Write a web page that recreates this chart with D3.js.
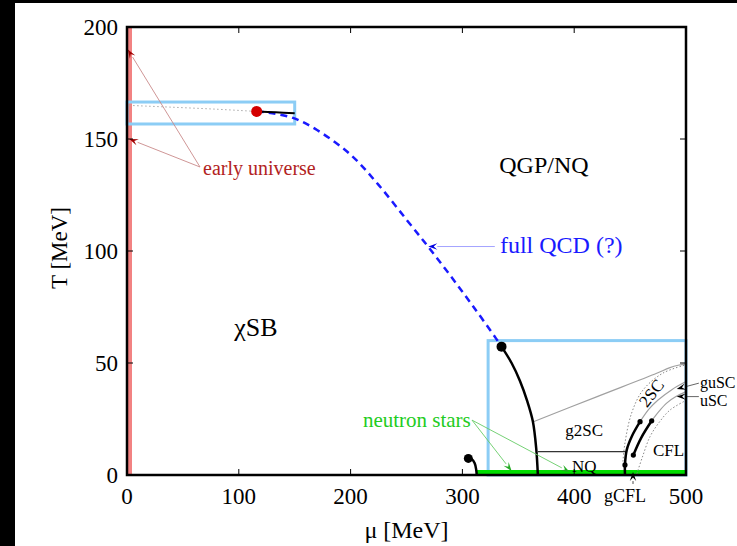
<!DOCTYPE html>
<html>
<head>
<meta charset="utf-8">
<script src="https://cdn.jsdelivr.net/npm/d3@7"></script>
<style>
  body { margin: 0; background: #fff; }
  svg { display: block; font-family: "Liberation Serif", "DejaVu Serif", serif; }
</style>
</head>
<body>
<div id="chart"></div>
<script>
// axis ticks
const muTicks = [0, 100, 200, 300, 400, 500]
const tTicks = [0, 50, 100, 150, 200]

// phase boundaries, [mu, T] in MeV
const crossoverDotted = [[2, 165], [40, 164.2], [80, 163.3], [116, 162.3]]
const crossoverSolid = [[116, 162.3], [133, 161.9], [150, 161.5]]
const fullQcd = [[116, 162.3], [130, 161.5], [148.5, 159.4], [170, 154], [200, 143], [225, 129.5], [250, 114], [270, 101.5], [290, 88.5], [310, 75], [330, 61], [335, 57.3]]
const firstOrder = [[335, 57.3], [344, 50], [351.5, 42], [358, 33], [363, 24], [366, 12], [367.5, 0]]
const nuclearLine = [[305.3, 7.4], [308.5, 7], [311, 5.2], [312.3, 2.5], [312.8, 0]]
const g2scLine = [[363.5, 23.8], [420, 34.9], [473.8, 45.4], [485, 47.8], [493, 49], [500, 49.5]]
const nqLine = [[367.6, 10.4], [446, 10.4]]
const cflSeg1 = [[445.4, 0], [445.4, 4.5], [447, 11.2], [451.7, 17.4], [458.9, 23.8]]
const cflSeg2 = [[452.9, 8.9], [459.8, 16.5], [469.3, 24.2]]
const cflDots = [[445.4, 4.5], [458.9, 23.8], [452.9, 8.9], [469.3, 24.2]]
const outerDotted = [[443.6, 6], [445.4, 14.3], [451.4, 27.7], [461.5, 37.9], [479.4, 45.5], [500, 49.2]]
const guscLine = [[458.9, 23.8], [467, 29.5], [475, 33.5], [487, 38], [500, 41.7]]
const uscLine = [[469.3, 24.2], [476, 28.5], [482.7, 32.1], [491, 35], [500, 37.2]]
const innerDotted = [[456, 0.5], [461, 8], [467.8, 17.1], [476, 23.5], [485.7, 29], [500, 33.3]]
const neutronStars = [312.8, 500]

const criticalPoint = [116, 162.3]
const endPoints = [[335, 57.3], [305.3, 7.4]]

// boxes: [mu0, mu1, T0, T1]
const boxes = [[0, 150, 156.7, 166.5], [323, 500, 0, 60]]

// labels: text, mu, T
const labels = [
  { text: 'early universe', mu: 68, t: 134, color: '#b22222', size: 20 },
  { text: 'QGP/NQ', mu: 333, t: 135, color: '#000', size: 24 },
  { text: 'full QCD (?)', mu: 333.6, t: 99, color: '#1a1aff', size: 24 },
  { text: 'χSB', mu: 96, t: 62, color: '#000', size: 26 },
  { text: 'neutron stars', mu: 211, t: 21.4, color: '#22cc22', size: 21 },
  { text: 'g2SC', mu: 392, t: 17.4, color: '#000', size: 17 },
  { text: 'NQ', mu: 398, t: 1.3, color: '#000', size: 17 },
  { text: 'CFL', mu: 470.5, t: 8.5, color: '#000', size: 17 },
  { text: 'guSC', mu: 512.5, t: 38.8, color: '#000', size: 16 },
  { text: 'uSC', mu: 512.5, t: 31, color: '#000', size: 16 },
  { text: 'gCFL', mu: 426.6, t: -12, color: '#000', size: 18 }
]

// arrows: from [mu, T] to [mu, T]
const arrows = [
  { from: [65.3, 137.5], to: [0.8, 190], line: '#c98a8a', head: '#a00000' },
  { from: [65.3, 137.5], to: [2, 150], line: '#c98a8a', head: '#a00000' },
  { from: [329, 102], to: [269.5, 102], line: '#9a9aff', head: '#0000e0' },
  { from: [308.6, 24.5], to: [344, 1.8], line: '#66cc66', head: '#22aa22' },
  { from: [308.6, 24.5], to: [396, 1.3], line: '#66cc66', head: '#22aa22' },
  { from: [511.5, 41], to: [491.7, 38.4], line: '#555', head: '#000' },
  { from: [511.5, 35], to: [491.7, 35], line: '#555', head: '#000' },
  { from: [452.6, -4], to: [452.6, 1.3], line: '#333', head: '#000' }
]

const margin = { top: 27, right: 51, bottom: 71, left: 127 }
const width = 737 - margin.left - margin.right
const height = 546 - margin.top - margin.bottom

const root = d3.select('#chart').append('svg')
  .attr('width', 737)
  .attr('height', 546)

// screenshot borders
root.append('rect').attr('x', 0).attr('y', 0).attr('width', 15).attr('height', 546).attr('fill', '#000')
root.append('rect').attr('x', 0).attr('y', 0).attr('width', 737).attr('height', 3).attr('fill', '#000')

const svg = root.append('g')
  .attr('transform', 'translate(' + margin.left + ',' + margin.top + ')')

const x = d3.scaleLinear().domain([0, 500]).range([0, width])
const y = d3.scaleLinear().domain([0, 200]).range([height, 0])

const line = d3.line()
  .x(d => x(d[0]))
  .y(d => y(d[1]))
  .curve(d3.curveCatmullRom)

// early universe band at mu = 0
svg.append('line')
  .attr('x1', x(0) + 2.5).attr('x2', x(0) + 2.5)
  .attr('y1', y(200)).attr('y2', y(0))
  .attr('stroke', '#f28282')
  .attr('stroke-width', 5)

// boxes
svg.selectAll('.box')
  .data(boxes)
  .join('rect')
  .attr('class', 'box')
  .attr('x', d => x(d[0]))
  .attr('y', d => y(d[3]))
  .attr('width', d => x(d[1]) - x(d[0]))
  .attr('height', d => y(d[2]) - y(d[3]))
  .attr('fill', 'none')
  .attr('stroke', '#8ccdf5')
  .attr('stroke-width', 3)

// neutron stars
svg.append('line')
  .attr('x1', x(neutronStars[0])).attr('x2', x(neutronStars[1]))
  .attr('y1', y(0) - 2.5).attr('y2', y(0) - 2.5)
  .attr('stroke', '#00dd00')
  .attr('stroke-width', 5)

// thin gray / dotted lines
function path (data, stroke, w, dash) {
  svg.append('path')
    .datum(data)
    .attr('d', line)
    .attr('fill', 'none')
    .attr('stroke', stroke)
    .attr('stroke-width', w)
    .attr('stroke-dasharray', dash || null)
}

path(crossoverDotted, '#aaa', 1, '1.5,2.5')
path(outerDotted, '#888', 1, '1.5,2')
path(innerDotted, '#888', 1, '1.5,2')
path(g2scLine, '#a0a0a0', 1.2)
path(guscLine, '#a0a0a0', 1.2)
path(uscLine, '#a0a0a0', 1.2)
path(nqLine, '#000', 1)
path(fullQcd, '#1a1aff', 2.5, '7,5')
path(crossoverSolid, '#000', 2)
path(firstOrder, '#000', 2.5)
path(nuclearLine, '#000', 2.5)
path(cflSeg1, '#000', 2.5)
path(cflSeg2, '#000', 2.5)

svg.selectAll('.cfl-dot')
  .data(cflDots)
  .join('circle')
  .attr('class', 'cfl-dot')
  .attr('cx', d => x(d[0]))
  .attr('cy', d => y(d[1]))
  .attr('r', 2.6)
  .attr('fill', '#000')

svg.selectAll('.end-dot')
  .data(endPoints)
  .join('circle')
  .attr('class', 'end-dot')
  .attr('cx', d => x(d[0]))
  .attr('cy', d => y(d[1]))
  .attr('r', (d, i) => i === 0 ? 5 : 4.5)
  .attr('fill', '#000')

svg.append('circle')
  .attr('cx', x(criticalPoint[0]))
  .attr('cy', y(criticalPoint[1]))
  .attr('r', 5.5)
  .attr('fill', '#d40000')

// arrows
arrows.forEach(a => {
  const x1 = x(a.from[0]), y1 = y(a.from[1])
  const x2 = x(a.to[0]), y2 = y(a.to[1])
  const ang = Math.atan2(y2 - y1, x2 - x1)
  const len = 9, wid = 3.2
  const bx = x2 - len * Math.cos(ang), by = y2 - len * Math.sin(ang)
  svg.append('line')
    .attr('x1', x1).attr('y1', y1).attr('x2', bx).attr('y2', by)
    .attr('stroke', a.line)
    .attr('stroke-width', 0.9)
  const px = -Math.sin(ang) * wid, py = Math.cos(ang) * wid
  const nx = x2 - 0.6 * len * Math.cos(ang), ny = y2 - 0.6 * len * Math.sin(ang)
  svg.append('path')
    .attr('d', 'M' + x2 + ',' + y2 + 'L' + (bx + px) + ',' + (by + py) +
      'L' + nx + ',' + ny + 'L' + (bx - px) + ',' + (by - py) + 'Z')
    .attr('fill', a.head)
})

// labels
svg.selectAll('.label')
  .data(labels)
  .join('text')
  .attr('class', 'label')
  .attr('x', d => x(d.mu))
  .attr('y', d => y(d.t))
  .attr('fill', d => d.color)
  .attr('font-size', d => d.size)
  .text(d => d.text)

svg.append('text')
  .attr('transform', 'translate(' + x(469) + ',' + y(36.6) + ') rotate(-52)')
  .attr('text-anchor', 'middle')
  .attr('dy', 6)
  .attr('font-size', 17)
  .text('2SC')

// frame
svg.append('rect')
  .attr('width', width)
  .attr('height', height)
  .attr('fill', 'none')
  .attr('stroke', '#000')
  .attr('stroke-width', 2.5)

// inward ticks
const innerMu = muTicks.slice(1, -1)
const innerT = tTicks.slice(1, -1)
svg.selectAll('.xt-b').data(innerMu).join('line').attr('class', 'xt-b')
  .attr('x1', d => x(d)).attr('x2', d => x(d))
  .attr('y1', height).attr('y2', height - 6)
  .attr('stroke', '#000')
svg.selectAll('.xt-t').data(innerMu).join('line').attr('class', 'xt-t')
  .attr('x1', d => x(d)).attr('x2', d => x(d))
  .attr('y1', 0).attr('y2', 6)
  .attr('stroke', '#000')
svg.selectAll('.yt-l').data(innerT).join('line').attr('class', 'yt-l')
  .attr('y1', d => y(d)).attr('y2', d => y(d))
  .attr('x1', 0).attr('x2', 6)
  .attr('stroke', '#000')
svg.selectAll('.yt-r').data(innerT).join('line').attr('class', 'yt-r')
  .attr('y1', d => y(d)).attr('y2', d => y(d))
  .attr('x1', width).attr('x2', width - 6)
  .attr('stroke', '#000')

// tick labels
svg.selectAll('.xl').data(muTicks).join('text').attr('class', 'xl')
  .attr('x', d => x(d))
  .attr('y', height + 29)
  .attr('text-anchor', 'middle')
  .attr('font-size', 23)
  .text(d => d)
svg.selectAll('.yl').data(tTicks).join('text').attr('class', 'yl')
  .attr('x', -9)
  .attr('y', d => y(d) + 8)
  .attr('text-anchor', 'end')
  .attr('font-size', 23)
  .text(d => d)

// axis titles
svg.append('text')
  .attr('x', width / 2)
  .attr('y', height + 63)
  .attr('text-anchor', 'middle')
  .attr('font-size', 24)
  .text('μ [MeV]')
svg.append('text')
  .attr('transform', 'translate(-60,' + (height / 2 - 3) + ') rotate(-90)')
  .attr('text-anchor', 'middle')
  .attr('font-size', 23)
  .text('T [MeV]')
</script>
</body>
</html>
